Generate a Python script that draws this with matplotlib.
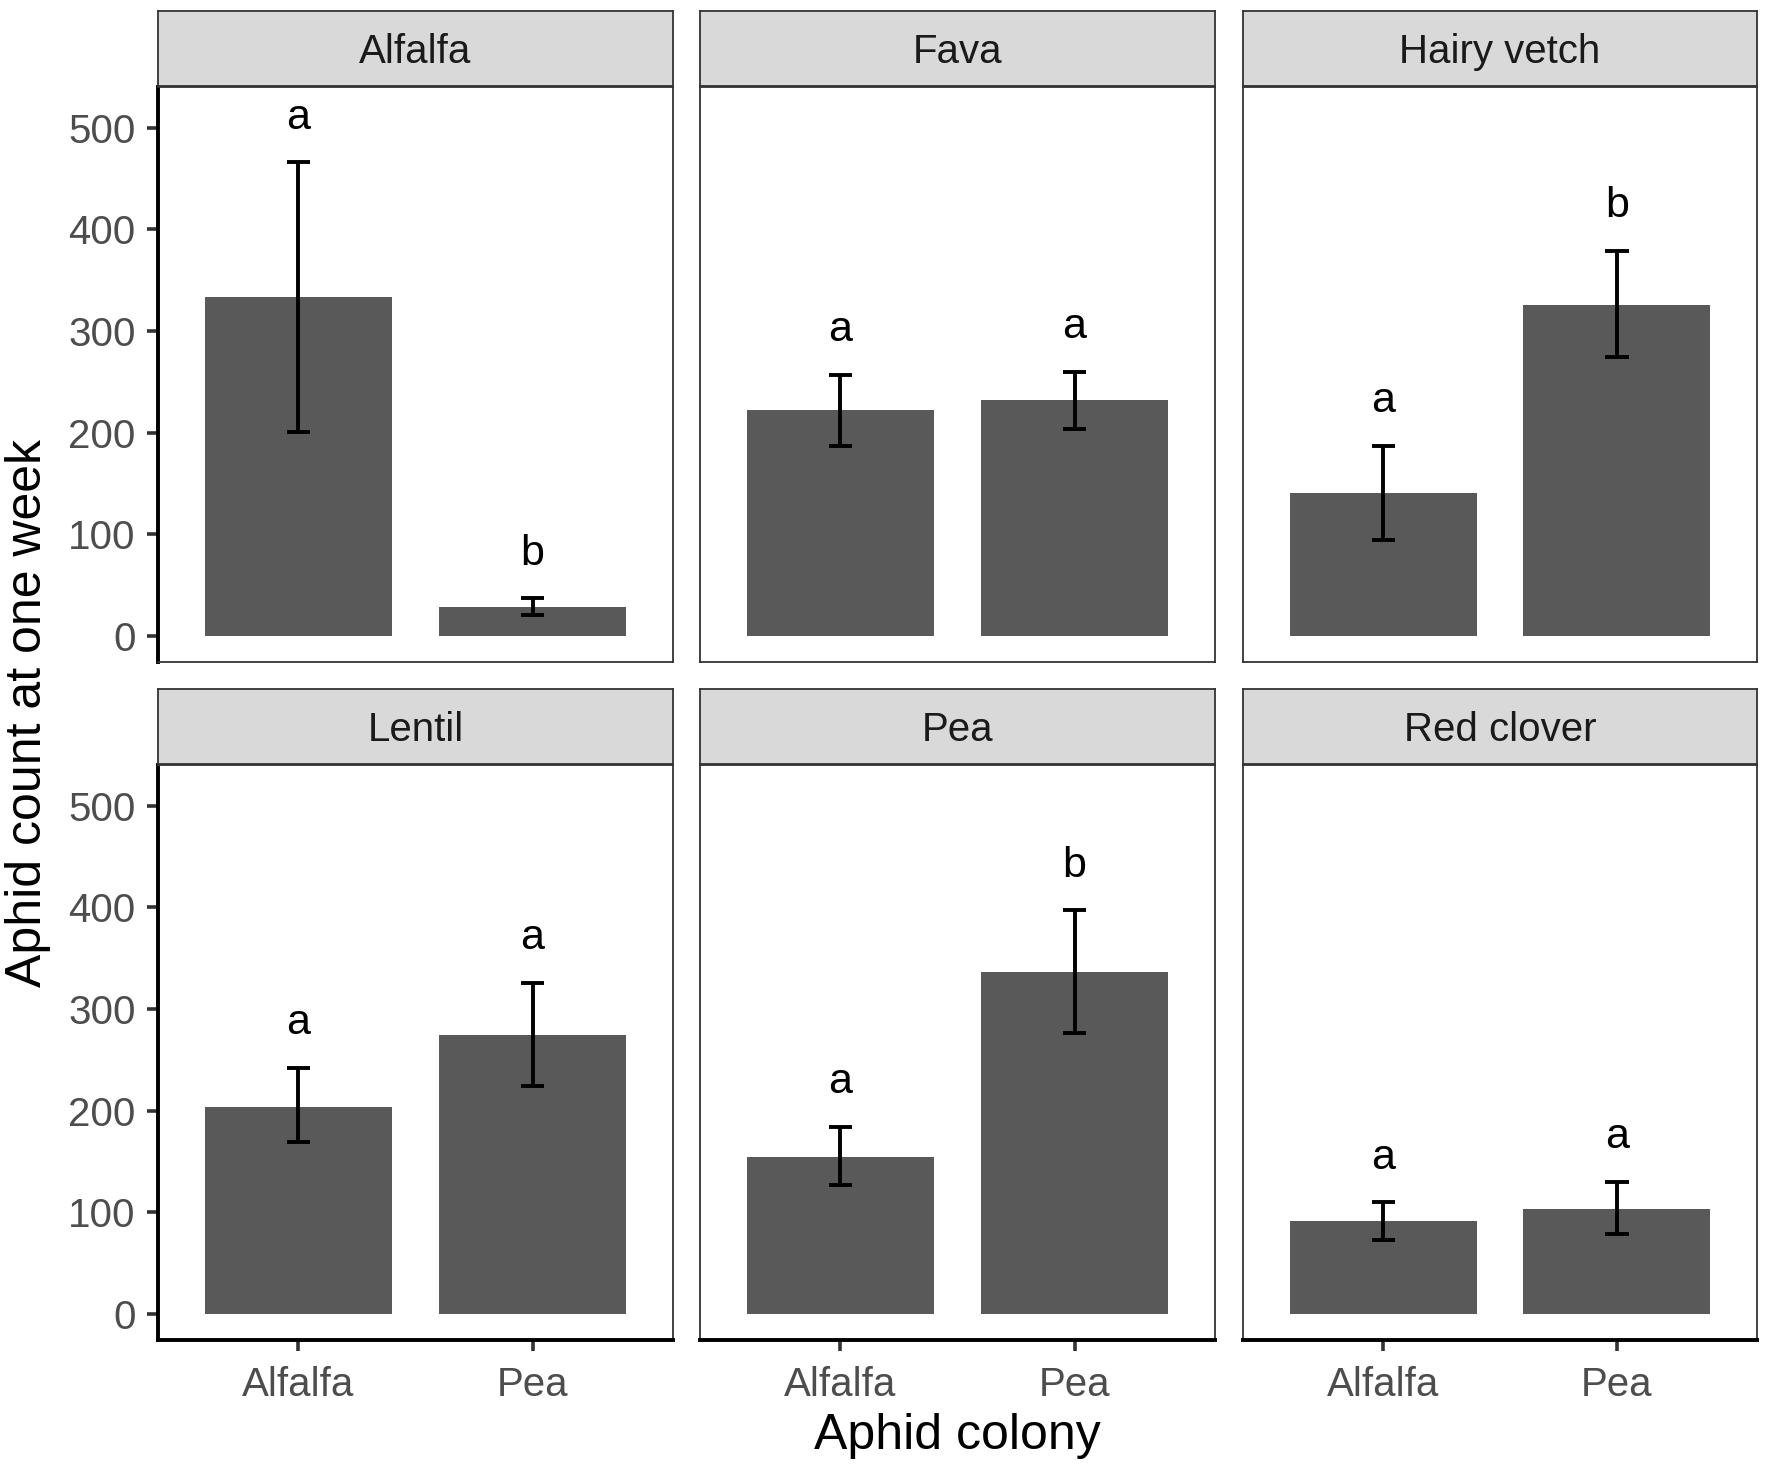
import matplotlib
matplotlib.use('Agg')
import matplotlib.pyplot as plt

plt.rcParams['font.family'] = ['Liberation Sans', 'DejaVu Sans']

# 数据
hosts = ['Alfalfa', 'Fava', 'Hairy vetch', 'Lentil', 'Pea', 'Red clover']
colonies = ['Alfalfa', 'Pea']
means = [[333, 28], [222, 232], [141, 326], [204, 274], [154, 336], [91, 103]]
lower = [[201, 21], [187, 204], [94, 274], [169, 224], [127, 276], [73, 79]]
upper = [[466, 37], [257, 260], [187, 379], [242, 326], [184, 397], [110, 130]]
letters = [['a', 'b'], ['a', 'a'], ['a', 'b'], ['a', 'a'], ['a', 'b'], ['a', 'a']]
y_ticks = [0, 100, 200, 300, 400, 500]

W, H = 1769, 1469
fig = plt.figure(figsize=(W / 100, H / 100), dpi=100)

# 面板位置（像素）
col_x = [(158, 673), (700, 1215), (1243, 1757)]
row_panel = [(87, 662), (765, 1340)]
row_strip = [(11, 86), (689, 764)]


def frac(x0, x1, y0, y1):
    return [x0 / W, 1 - y1 / H, (x1 - x0) / W, (y1 - y0) / H]


border = '#333333'
for i, host in enumerate(hosts):
    r, c = i // 3, i % 3
    x0, x1 = col_x[c]
    ax = fig.add_axes(frac(x0, x1, *row_panel[r]))
    xs = [1, 2]
    ax.bar(xs, means[i], width=0.8, color='#595959', zorder=2)
    ax.vlines(xs, lower[i], upper[i], color='black', lw=2.8, zorder=3)
    for x, lo, hi, lab in zip(xs, lower[i], upper[i], letters[i]):
        ax.hlines([lo, hi], x - 0.05, x + 0.05, color='black', lw=2.8, zorder=3)
        ax.text(x, hi + 33, lab, ha='center', va='baseline', fontsize=31, color='black')
    ax.set_xlim(0.4, 2.6)
    ax.set_ylim(-25.7, 540)
    ax.set_yticks(y_ticks)
    ax.set_xticks(xs)
    ax.set_xticklabels(colonies)
    for sp in ax.spines.values():
        sp.set_color(border)
        sp.set_linewidth(1.3)
    ax.tick_params(colors=border, labelcolor='#4D4D4D', labelsize=29,
                   width=2.6, length=8, pad=8)
    ax.tick_params(axis='x', pad=11)
    if c == 0:
        ax.spines['left'].set_color('black')
        ax.spines['left'].set_linewidth(2.8)
    else:
        ax.tick_params(axis='y', left=False, labelleft=False)
    if r == 1:
        ax.spines['bottom'].set_color('black')
        ax.spines['bottom'].set_linewidth(2.8)
    else:
        ax.tick_params(axis='x', bottom=False, labelbottom=False)

    # 分面标签
    sax = fig.add_axes(frac(x0, x1, *row_strip[r]))
    sax.set_facecolor('#D9D9D9')
    sax.set_xticks([])
    sax.set_yticks([])
    for sp in sax.spines.values():
        sp.set_color(border)
        sp.set_linewidth(1.3)
    sax.text(0.5, 0.45, host, ha='center', va='center', fontsize=29,
             color='#1A1A1A', transform=sax.transAxes)

fig.text(957.5 / W, 1 - 1436 / H, 'Aphid colony', ha='center', va='center', fontsize=36)
fig.text(28 / W, 1 - 713 / H, 'Aphid count at one week', ha='center', va='center',
         rotation=90, fontsize=36)

fig.savefig('out.png', dpi=100, facecolor='white')
